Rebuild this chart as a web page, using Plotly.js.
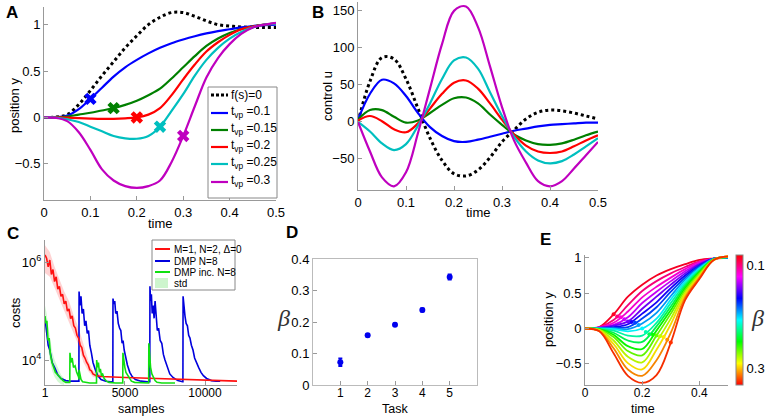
<!DOCTYPE html>
<html><head><meta charset="utf-8">
<script src="https://cdn.plot.ly/plotly-3.0.1.min.js"></script>
<style>html,body{margin:0;padding:0;background:#fff}#chart{width:767px;height:416px}</style>
</head><body><div id="chart"></div>
<script>
// ---------------- Panel A : position y vs time ----------------
const timeA = [0,0.025,0.05,0.075,0.1,0.125,0.15,0.175,0.2,0.225,0.25,0.275,0.3,0.325,0.35,0.375,0.4,0.425,0.45,0.475,0.5];
const aFree   = [0,0.003,0.03,0.14,0.29,0.45,0.6,0.75,0.88,1.0,1.08,1.13,1.13,1.09,1.04,1.0,0.985,0.975,0.97,0.97,0.97];
const aTvp010 = [0,0.002,0.02,0.09,0.2,0.32,0.44,0.54,0.62,0.69,0.75,0.8,0.84,0.875,0.905,0.93,0.95,0.97,0.985,0.995,1.0];
const aTvp015 = [0,0.001,0.01,0.03,0.05,0.075,0.1,0.135,0.18,0.24,0.31,0.42,0.54,0.66,0.77,0.85,0.91,0.95,0.98,1.0,1.01];
const aTvp020 = [0,0,-0.003,-0.008,-0.012,-0.015,-0.015,-0.01,0,0.03,0.1,0.24,0.41,0.57,0.71,0.81,0.89,0.95,0.98,1.0,1.01];
const aTvp025 = [0,-0.002,-0.02,-0.05,-0.1,-0.15,-0.2,-0.225,-0.23,-0.2,-0.1,0.07,0.25,0.45,0.62,0.75,0.85,0.92,0.97,1.0,1.01];
const aTvp030 = [0,-0.005,-0.04,-0.16,-0.35,-0.56,-0.68,-0.74,-0.76,-0.74,-0.68,-0.48,-0.2,0.12,0.43,0.64,0.79,0.9,0.97,1.0,1.02];
const aViaT = [0.1,0.15,0.2,0.25,0.3];
const aViaY = [0.2,0.1,0,-0.1,-0.2];
const aLegendLabels = ['f(s)=0','t<sub>vp</sub> =0.1','t<sub>vp</sub> =0.15','t<sub>vp</sub> =0.2','t<sub>vp</sub> =0.25','t<sub>vp</sub> =0.3'];

// ---------------- Panel B : control u vs time ----------------
const timeB = [0,0.025,0.05,0.075,0.1,0.125,0.15,0.175,0.2,0.225,0.25,0.275,0.3,0.325,0.35,0.375,0.4,0.425,0.45,0.475,0.5];
const bFree   = [0,55,87,85,58,18,-22,-52,-70,-73,-65,-48,-27,-11,4,13,16,15,12,8,4];
const bTvp010 = [3,38,57,52,35,12,-7,-19,-26,-27,-24,-20,-16,-12,-9,-6,-4,-3,-2,-1,-1];
const bTvp015 = [3,16,16,7,-1,2,12,23,32,33,25,10,-4,-17,-25,-30,-31,-29,-24,-18,-13];
const bTvp020 = [2,8,1,-10,-14,-2,18,38,53,56,45,25,3,-17,-32,-40,-42,-40,-33,-25,-18];
const bTvp025 = [0,-13,-29,-38,-30,-5,25,58,83,87,72,40,8,-20,-40,-52,-56,-53,-44,-33,-22];
const bTvp030 = [0,-40,-75,-87,-68,-15,45,105,150,156,128,75,20,-25,-55,-80,-87,-80,-63,-45,-27];

// ---------------- Panel C : costs vs samples ----------------
const cRedS = [1,100,200,300,400,500,600,700,800,900,1000,1100,1200,1300,1400,1500,1600,1700,1800,1900,2000,2100,2200,2300,2400,2500,2600,2700,2800,2900,3000,3200,3500,4000,5000,6000,7000,8000,9000,10000,11000,12000];
const cRedCost = [1.4e6,1.2e6,8e5,1.1e6,5.6e5,7e5,4e5,5e5,2.8e5,3.2e5,2e5,2.2e5,1.4e5,1.6e5,1e5,1.1e5,7e4,8e4,5e4,4.5e4,3.2e4,2.8e4,2e4,1.8e4,1.25e4,1.1e4,9e3,8e3,6.3e3,6e3,5.2e3,4.8e3,4.6e3,4.5e3,4.4e3,4.3e3,4.2e3,4e3,4e3,3.8e3,3.8e3,3.7e3];
const cRedBandS = [1,300,600,900,1200,1500,1800,2100,2400,2700,3000,3500];
const cRedUpper = [2.2e6,1.6e6,8e5,4.5e5,2.5e5,1.6e5,8e4,4.5e4,2e4,1e4,6e3,5.2e3];
const cRedLower = [6e5,5e5,3e5,1.8e5,1e5,6e4,3.5e4,2e4,9e3,6e3,4.5e3,4.2e3];
const cBlueS = [1,100,200,300,450,600,800,1000,1300,1600,2000,2120,2130,2180,2250,2320,2400,2480,2560,2640,2720,2800,2900,3000,3150,3300,3500,3800,4100,4240,4250,4300,4360,4420,4500,4580,4660,4740,4820,4880,4950,5050,5150,5300,5450,5650,6000,6400,6550,6560,6600,6650,6700,6760,6820,6880,6950,7020,7100,7200,7300,7400,7500,7650,7800,8000,8300,8600,8620,8630,8680,8750,8820,8900,8980,9060,9150,9250,9350,9450,9600,9750,9900,10100,10400,10700,10950];
const cBlueCost = [71000,40000,20000,16000,8900,7100,5000,4200,3800,3700,3700,3700,250000,130000,200000,89000,110000,50000,63000,35000,40000,20000,14000,8900,6300,4800,4000,3700,3600,3600,180000,140000,160000,89000,100000,56000,45000,40000,22000,25000,16000,11000,7900,5600,4600,4000,3700,3600,3600,320000,160000,220000,89000,130000,71000,160000,63000,40000,45000,25000,22000,13000,10000,7100,5200,4400,3800,3600,3600,200000,110000,79000,56000,50000,32000,28000,20000,16000,11000,8900,7100,5600,4800,4200,3800,3700,3700];
const cGreenS = [1,60,120,190,260,340,440,550,650,750,900,1125,1300,1550,1560,1620,1700,1780,1880,1980,2100,2120,2130,2180,2250,2350,2500,2800,3100,3220,3230,3280,3340,3400,3460,3520,3600,3700,3850,4000,4400,4860,4870,4920,4990,5060,5150,5250,5400,5600,6000,6480,6490,6540,6600,6680,6760,6880,7000,7300,7700,8125];
const cGreenCost = [79000,56000,63000,25000,28000,13000,8900,7100,5600,5200,4500,3800,3500,3500,14000,8900,11000,7100,7600,5600,4500,4000,6300,5000,4000,3600,3500,3400,3400,3400,10000,7100,8900,5600,6600,5000,5200,4200,3700,3500,3400,3400,14000,8900,7100,5600,5000,4200,3700,3500,3400,3400,22000,10000,7100,5200,4500,3800,3500,3400,3400,3400];
const cGreenBandS = [1,100,200,300,450,600,800,1000,1200];
const cGreenUpper = [1.3e5,9e4,5e4,3e4,1.5e4,1e4,7e3,5e3,4.2e3];
const cGreenLower = [5e4,3e4,1.6e4,1e4,6e3,4.5e3,3.6e3,3.2e3,3.1e3];
const cLegendLabels = ['M=1, N=2, \u0394=0','DMP N=8','DMP inc. N=8','std'];

// ---------------- Panel D : beta per task ----------------
const dTask = [1,2,3,4,5];
const dBeta = [0.072,0.158,0.191,0.238,0.343];
const dErr  = [0.012,0.004,0.004,0.005,0.008];

// ---------------- Panel E : family of trajectories coloured by beta ----------------
const timeE = [0,0.05,0.1,0.15,0.2,0.25,0.3,0.35,0.4,0.45,0.5];
const eBeta = [0.085,0.1,0.115,0.13,0.145,0.16,0.175,0.19,0.205,0.22,0.235,0.25,0.265,0.28,0.295,0.31,0.325];
const eCurvesY = [
 [0,0.02,0.20,0.45,0.62,0.75,0.84,0.91,0.97,0.99,1.0],
 [0,0.02,0.12,0.33,0.53,0.67,0.78,0.87,0.95,0.99,1.0],
 [0,0.015,0.08,0.24,0.44,0.59,0.72,0.84,0.94,0.99,1.0],
 [0,0.01,0.05,0.16,0.36,0.52,0.67,0.81,0.92,0.99,1.0],
 [0,0.01,0.04,0.10,0.28,0.45,0.62,0.78,0.91,0.99,1.0],
 [0,0.005,0.02,0.06,0.21,0.37,0.57,0.75,0.89,0.99,1.0],
 [0,0,0.01,0.02,0.14,0.30,0.52,0.72,0.88,0.99,1.0],
 [0,0,0,-0.01,0.07,0.22,0.46,0.69,0.86,0.99,1.0],
 [0,0,-0.01,-0.04,0,0.14,0.41,0.66,0.85,0.98,1.01],
 [0,-0.005,-0.03,-0.10,-0.10,0.08,0.36,0.63,0.83,0.98,1.01],
 [0,-0.01,-0.06,-0.17,-0.19,0.03,0.31,0.60,0.81,0.98,1.01],
 [0,-0.01,-0.09,-0.25,-0.29,-0.03,0.26,0.57,0.80,0.98,1.01],
 [0,-0.02,-0.12,-0.32,-0.38,-0.10,0.21,0.54,0.78,0.98,1.01],
 [0,-0.02,-0.17,-0.40,-0.48,-0.19,0.14,0.51,0.76,0.97,1.02],
 [0,-0.03,-0.22,-0.49,-0.58,-0.30,0.06,0.48,0.74,0.97,1.02],
 [0,-0.035,-0.28,-0.58,-0.67,-0.45,-0.06,0.44,0.72,0.97,1.02],
 [0,-0.04,-0.35,-0.67,-0.77,-0.66,-0.20,0.40,0.70,0.97,1.02]
];
const eViaT = [0.1,0.1125,0.125,0.1375,0.15,0.1625,0.175,0.1875,0.2,0.2125,0.225,0.2375,0.25,0.2625,0.275,0.2875,0.3];
const eViaY = [0.2,0.17,0.16,0.13,0.1,0.09,0.08,0.05,0,-0.05,-0.08,-0.09,-0.1,-0.11,-0.12,-0.16,-0.2];

// ---------------- styling helpers ----------------
const W = 767, H = 416;
const px = x => x / W, py = y => 1 - y / H;
const FONT = 'Liberation Sans, Arial, Helvetica, sans-serif';
const curveColors = ['#0000ff','#008000','#ff0000','#00bfbf','#bf00bf'];
const betaMin = 0.079, betaMax = 0.333;
function betaColor(b){
  const h = (betaMax - b) / (betaMax - betaMin) * 360;
  return 'hsl(' + h.toFixed(1) + ',100%,48%)';
}
const hsvScale = [[0,'#ff0000'],[1/6,'#ffff00'],[2/6,'#00ff00'],[3/6,'#00ffff'],[4/6,'#0000ff'],[5/6,'#ff00ff'],[1,'#ff0000']];

const traces = [];
// A
traces.push({x: timeA, y: aFree, xaxis:'x', yaxis:'y', mode:'lines', line:{color:'#000', width:3, dash:'3px,3px', shape:'spline'}, hoverinfo:'skip'});
[aTvp010,aTvp015,aTvp020,aTvp025,aTvp030].forEach((ys,i)=>{
  traces.push({x: timeA, y: ys, xaxis:'x', yaxis:'y', mode:'lines', line:{color:curveColors[i], width:2.2, shape:'spline'}});
});
traces.push({x: aViaT, y: aViaY, xaxis:'x', yaxis:'y', mode:'markers', marker:{symbol:'x', size:11, color:curveColors, line:{width:0}}});
// B
traces.push({x: timeB, y: bFree, xaxis:'x2', yaxis:'y2', mode:'lines', line:{color:'#000', width:3, dash:'3px,3px', shape:'spline'}});
[bTvp010,bTvp015,bTvp020,bTvp025,bTvp030].forEach((ys,i)=>{
  traces.push({x: timeB, y: ys, xaxis:'x2', yaxis:'y2', mode:'lines', line:{color:curveColors[i], width:2.2, shape:'spline'}});
});
// C
traces.push({x: cRedBandS.concat(cRedBandS.slice().reverse()), y: cRedUpper.concat(cRedLower.slice().reverse()), xaxis:'x3', yaxis:'y3', mode:'lines', fill:'toself', fillcolor:'rgba(255,80,80,0.25)', line:{width:0}});
traces.push({x: cGreenBandS.concat(cGreenBandS.slice().reverse()), y: cGreenUpper.concat(cGreenLower.slice().reverse()), xaxis:'x3', yaxis:'y3', mode:'lines', fill:'toself', fillcolor:'rgba(80,230,80,0.25)', line:{width:0}});
traces.push({x: cBlueS, y: cBlueCost, xaxis:'x3', yaxis:'y3', mode:'lines', line:{color:'#0000dd', width:1.6}});
traces.push({x: cRedS, y: cRedCost, xaxis:'x3', yaxis:'y3', mode:'lines', line:{color:'#ff1010', width:1.6}});
traces.push({x: cGreenS, y: cGreenCost, xaxis:'x3', yaxis:'y3', mode:'lines', line:{color:'#10e010', width:1.6}});
// D
traces.push({x: dTask, y: dBeta, xaxis:'x4', yaxis:'y4', mode:'markers', marker:{color:'#0000ee', size:6}, error_y:{type:'data', array:dErr, visible:true, color:'#0000ee', thickness:2, width:2}});
// E
eCurvesY.forEach((ys,i)=>{
  traces.push({x: timeE, y: ys, xaxis:'x5', yaxis:'y5', mode:'lines', line:{color:betaColor(eBeta[i]), width:1.8, shape:'spline'}});
});
traces.push({x: eViaT, y: eViaY, xaxis:'x5', yaxis:'y5', mode:'markers',
  marker:{size:4, color: eBeta.map(b=>-b), colorscale: hsvScale, cmin:-betaMax, cmax:-betaMin, showscale:true,
    colorbar:{x:px(736), xanchor:'left', xpad:0, ypad:0, thickness:7, thicknessmode:'pixels', len:130/H, lenmode:'fraction',
      y:py(320), yanchor:'middle', outlinewidth:1, outlinecolor:'#888', tickvals:[-0.1,-0.3], ticktext:['0.1','0.3'],
      ticks:'', tickfont:{size:13, family:FONT, color:'#000'}}}});

function axis(domain, extra){
  return Object.assign({domain: domain, showline:true, linecolor:'#999', linewidth:1, ticks:'inside', ticklen:4, tickcolor:'#999',
    showgrid:false, zeroline:false, tickfont:{size:13, family:FONT, color:'#000'}, fixedrange:true}, extra);
}
const dx = (a,b) => [a/W, b/W];
const dy = (top,bottom) => [1-bottom/H, 1-top/H];
const smallTick = {size:12, family:FONT, color:'#000'};

const ann = [];
function txt(t, x, y, opts){ ann.push(Object.assign({text:t, x:px(x), y:py(y), xref:'paper', yref:'paper', showarrow:false, xanchor:'center', yanchor:'middle', font:{size:13, family:FONT, color:'#000'}}, opts||{})); }
// panel letters
[['A',12,12],['B',318,12],['C',13,233],['D',292,232],['E',545,240]].forEach(p=>txt('<b>'+p[0]+'</b>', p[1], p[2], {font:{size:17, family:FONT, color:'#000'}}));
// axis titles
txt('position y', 14, 105, {textangle:-90});
txt('time', 160, 223);
txt('control u', 327, 96, {textangle:-90});
txt('time', 478, 213);
txt('costs', 15, 313, {textangle:-90});
const lowTitle = {font:{size:12.5, family:FONT, color:'#000'}};
txt('samples', 141, 408.5, lowTitle);
txt('Task', 395, 408.5, lowTitle);
txt('<i>\u03b2</i>', 283, 318, {font:{size:24, family:'Liberation Serif, serif', color:'#333'}});
txt('position y', 548, 320, {textangle:-90});
txt('time', 643, 408.5, lowTitle);
txt('<i>\u03b2</i>', 757, 318, {font:{size:24, family:'Liberation Serif, serif', color:'#333'}});

// legends drawn by hand
const shapes = [];
shapes.push({type:'rect', xref:'paper', yref:'paper', x0:px(208), x1:px(277), y0:py(198), y1:py(87), line:{color:'#888', width:1}, fillcolor:'#fff'});
const aRows = [95,113,130,147,164,182];
aRows.forEach((ry,i)=>{
  const col = i===0 ? '#000' : curveColors[i-1];
  shapes.push({type:'line', xref:'paper', yref:'paper', x0:px(211), x1:px(228), y0:py(ry), y1:py(ry), line:{color:col, width: i===0?3:2.2, dash: i===0?'3px,2px':'solid'}});
  txt(aLegendLabels[i], 229, ry - (i===0?0:1), {xanchor:'left', font:{size:12, family:FONT, color:'#000'}});
});
shapes.push({type:'rect', xref:'paper', yref:'paper', x0:px(152), x1:px(235), y0:py(290), y1:py(240), line:{color:'#888', width:1}, fillcolor:'#fff'});
const cRows = [249,261,272,283];
const cCols = ['#ff1010','#0000dd','#10e010'];
cRows.forEach((ry,i)=>{
  if(i<3) shapes.push({type:'line', xref:'paper', yref:'paper', x0:px(155), x1:px(170), y0:py(ry), y1:py(ry), line:{color:cCols[i], width:2}});
  else shapes.push({type:'rect', xref:'paper', yref:'paper', x0:px(155), x1:px(168), y0:py(ry+5), y1:py(ry-5), line:{width:0}, fillcolor:'#cdf5cd'});
  txt(cLegendLabels[i], 172, ry, {xanchor:'left', font:{size:10, family:FONT, color:'#000'}});
});

const bottomX = {tickfont:smallTick, ticklabelstandoff:-3};
const layout = {
  width: W, height: H, margin:{l:0,r:0,t:0,b:0}, autosize:false, showlegend:false,
  paper_bgcolor:'#fff', plot_bgcolor:'rgba(0,0,0,0)', font:{family:FONT, color:'#000'},
  xaxis: axis(dx(44,276), {anchor:'y', range:[0,0.5], tickvals:[0,0.1,0.2,0.3,0.4,0.5], ticktext:['0','0.1','0.2','0.3','0.4','0.5']}),
  yaxis: axis(dy(7,200), {anchor:'x', range:[-0.89,1.19], tickvals:[-0.5,0,0.5,1]}),
  xaxis2: axis(dx(358,598), {anchor:'y2', range:[0,0.5], tickvals:[0,0.1,0.2,0.3,0.4,0.5], ticktext:['0','0.1','0.2','0.3','0.4','0.5']}),
  yaxis2: axis(dy(2,190), {anchor:'x2', range:[-92,162], tickvals:[-50,0,50,100,150]}),
  xaxis3: axis(dx(45,237), Object.assign({anchor:'y3', range:[1,12000], tickvals:[1,5000,10000], ticktext:['1','5000','10000']}, bottomX)),
  yaxis3: axis(dy(240,385), {anchor:'x3', type:'log', range:[3.49,6.45], tickvals:[1e4,1e6], ticktext:['10<sup>4</sup>','10<sup>6</sup>']}),
  xaxis4: axis(dx(313,477), Object.assign({anchor:'y4', range:[0,6], tickvals:[1,2,3,4,5], mirror:true, linecolor:'#bbb'}, bottomX)),
  yaxis4: axis(dy(259,385), {anchor:'x4', range:[0,0.4], tickvals:[0,0.1,0.2,0.3,0.4], ticktext:['0','0.1','0.2','0.3','0.4'], mirror:true, linecolor:'#bbb'}),
  xaxis5: axis(dx(585,728), Object.assign({anchor:'y5', range:[0,0.5], tickvals:[0,0.2,0.4], ticktext:['0','0.2','0.4']}, bottomX)),
  yaxis5: axis(dy(255,385), {anchor:'x5', range:[-0.8,1.04], tickvals:[-0.5,0,0.5,1]}),
  annotations: ann, shapes: shapes
};
Plotly.newPlot('chart', traces, layout, {staticPlot:true, displayModeBar:false});
</script></body></html>
